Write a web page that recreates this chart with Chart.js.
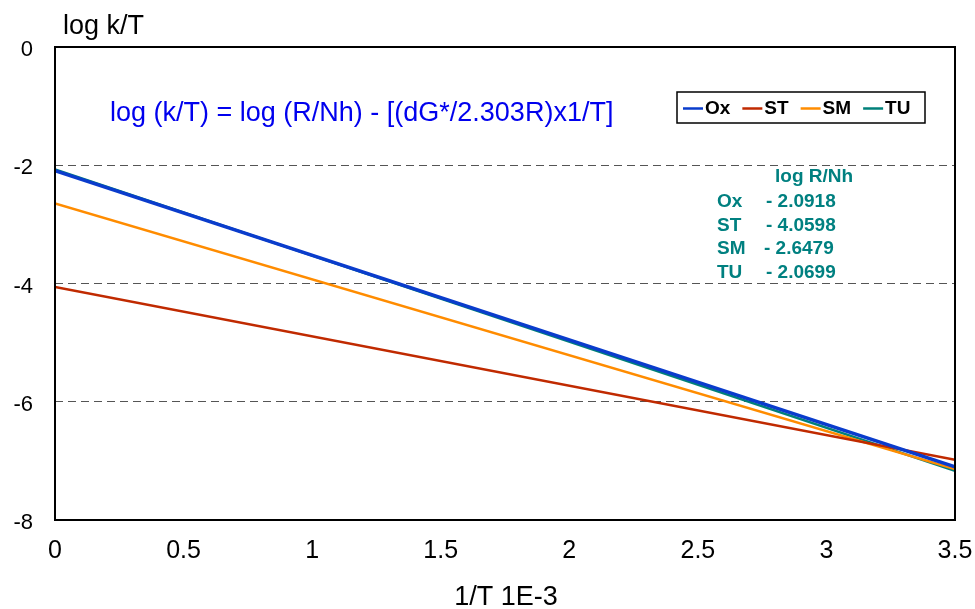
<!DOCTYPE html>
<html>
<head>
<meta charset="utf-8">
<script src="https://cdn.jsdelivr.net/npm/chart.js@4.4.0/dist/chart.umd.min.js"></script>
<style>
  html, body { margin: 0; padding: 0; background: #fff; }
  #wrap { width: 975px; height: 609px; }
</style>
</head>
<body>
<div id="wrap"><canvas id="chart" width="975" height="609"></canvas></div>
<script>
// 1/T (x 1E-3) at both ends of the fitted lines
const xValues = [0, 3.5];

// series: log k/T at x = 0 (intercept = log R/Nh) and at x = 3.5
const seriesNames = ["Ox", "ST", "SM", "TU"];
const seriesColors = ["#0a3ccc", "#c02a00", "#ff8c00", "#00807a"];
const intercepts = [-2.0918, -4.0598, -2.6479, -2.0699];
const endValues = [-7.10, -6.98, -7.14, -7.17];

const yTicks = [0, -2, -4, -6, -8];
const xTicks = [0, 0.5, 1, 1.5, 2, 2.5, 3, 3.5];

const FONT = "'Liberation Sans', Arial, sans-serif";

const datasets = seriesNames.map((name, i) => ({
  label: name,
  data: [
    { x: xValues[0], y: intercepts[i] },
    { x: xValues[1], y: endValues[i] }
  ],
  borderColor: seriesColors[i],
  backgroundColor: seriesColors[i],
  borderWidth: i === 0 ? 3.5 : 2.5,
  pointRadius: 0,
  tension: 0
}));

// frame, titles, equation, legend box and the log R/Nh table
const extras = {
  id: "extras",
  afterDraw(chart) {
    const ctx = chart.ctx;
    const a = chart.chartArea;
    ctx.save();

    // plot frame
    ctx.strokeStyle = "#000";
    ctx.lineWidth = 2;
    ctx.strokeRect(a.left, a.top, a.right - a.left, a.bottom - a.top);

    // axis titles
    ctx.fillStyle = "#000";
    ctx.font = "27px " + FONT;
    ctx.textBaseline = "alphabetic";
    ctx.textAlign = "left";
    ctx.fillText("log k/T", 63, 34);
    ctx.textAlign = "center";
    ctx.fillText("1/T 1E-3", 506, 605);

    // equation
    ctx.textAlign = "left";
    ctx.fillStyle = "#0000ee";
    ctx.font = "27px " + FONT;
    ctx.fillText("log (k/T) = log (R/Nh) - [(dG*/2.303R)x1/T]", 110, 121);

    // legend
    const bx = 677, by = 92, bw = 248, bh = 31;
    ctx.fillStyle = "#fff";
    ctx.fillRect(bx, by, bw, bh);
    ctx.strokeStyle = "#000";
    ctx.lineWidth = 1.5;
    ctx.strokeRect(bx, by, bw, bh);
    ctx.font = "bold 19px " + FONT;
    ctx.textBaseline = "middle";
    let cx = bx + 6;
    const cy = by + bh / 2 + 1;
    chart.data.datasets.forEach(ds => {
      ctx.strokeStyle = ds.borderColor;
      ctx.lineWidth = 2.5;
      ctx.beginPath();
      ctx.moveTo(cx, cy);
      ctx.lineTo(cx + 20, cy);
      ctx.stroke();
      ctx.fillStyle = "#000";
      ctx.fillText(ds.label, cx + 22, cy);
      cx += 22 + ctx.measureText(ds.label).width + 12;
    });

    // log R/Nh table
    ctx.fillStyle = "#008080";
    ctx.textBaseline = "alphabetic";
    ctx.font = "bold 19px " + FONT;
    ctx.fillText("log R/Nh", 775, 182);
    seriesNames.forEach((name, i) => {
      const y = 207 + i * 23.7;
      ctx.fillText(name, 717, y);
      ctx.fillText("- " + Math.abs(intercepts[i]).toFixed(4), name === "SM" ? 764 : 766, y);
    });

    ctx.restore();
  }
};

new Chart(document.getElementById("chart"), {
  type: "line",
  data: { datasets },
  options: {
    responsive: false,
    animation: false,
    events: [],
    layout: { padding: { top: 47, right: 20, left: 0, bottom: 0 } },
    plugins: { legend: { display: false }, tooltip: { enabled: false } },
    scales: {
      x: {
        type: "linear",
        min: 0,
        max: 3.5,
        afterFit: s => { s.height = 89; s.paddingLeft = 0; s.paddingRight = 0; },
        afterBuildTicks: s => { s.ticks = xTicks.map(v => ({ value: v })); },
        grid: { display: false, drawTicks: false },
        border: { display: false },
        ticks: {
          padding: 16,
          color: "#000",
          font: { family: FONT, size: 25 },
          callback: v => String(v)
        }
      },
      y: {
        type: "linear",
        min: -8,
        max: 0,
        afterFit: s => { s.width = 55; s.paddingTop = 0; s.paddingBottom = 0; },
        afterBuildTicks: s => { s.ticks = yTicks.map(v => ({ value: v })); },
        grid: {
          drawTicks: false,
          lineWidth: 1,
          color: c => (c.tick && (c.tick.value === 0 || c.tick.value === -8)) ? "rgba(0,0,0,0)" : "#555"
        },
        border: { display: false, dash: [8, 5] },
        ticks: {
          padding: 22,
          labelOffset: 3,
          color: "#000",
          font: { family: FONT, size: 22 },
          callback: v => String(v)
        }
      }
    }
  },
  plugins: [extras]
});
</script>
</body>
</html>
